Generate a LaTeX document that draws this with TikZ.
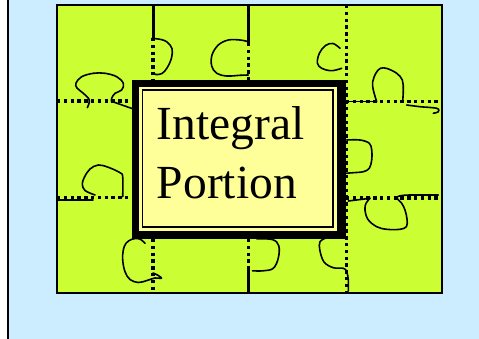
\documentclass[tikz,border=0pt]{standalone}
\usepackage{fontspec}
\setmainfont{Liberation Serif}
\definecolor{sky}{HTML}{CCECFF}
\definecolor{lime}{HTML}{CCFF33}
\definecolor{cream}{HTML}{FFFF99}
\begin{document}
\begin{tikzpicture}[x=1pt,y=-1pt,
  cut/.style={line width=3.2pt, dash pattern=on 3.4pt off 3.4pt},
  seam/.style={line width=3pt},
  edge/.style={line width=1.6pt, line join=round, line cap=round},
  knob/.style={smooth, tension=0.6},
  label/.style={anchor=base west, inner sep=0pt, font=\fontsize{47.5}{56}\selectfont}]
\useasboundingbox (0,0) rectangle (479,339);
\fill[white] (0,0) rectangle (479,339);
% slide background
\filldraw[fill=sky, draw=black, line width=2pt] (8.3,-10) rectangle (500,360);
% puzzle board
\filldraw[fill=lime, draw=black, line width=1.1pt] (57,5) rectangle (442,293);

% cutting lines of the grid
\draw[seam] (153,5) -- (153,38);
\draw[cut] (153,38) -- (153,80);
\draw[cut] (153,239) -- (153,292);
\draw[seam] (248.5,5) -- (248.5,43);
\draw[cut] (248.5,43) -- (248.5,80);
\draw[cut] (248.5,239) -- (248.5,268);
\draw[seam] (248.5,268) -- (248.5,293);
\draw[cut] (57,101) -- (132,101);
\draw[cut] (57,197.5) -- (132,197.5);
\draw[cut] (346,101.5) -- (440,101.5);
\draw[cut] (346,198) -- (440,198);

% piece outlines: tabs and blanks
\draw[edge] plot[knob] coordinates {(87.3,107.7) (89.3,100) (83.3,93.3) (77,88) (76,83) (81.7,76.7) (93.3,73.3) (105,73.3) (116.7,76.7) (123.3,83.3) (121.7,90) (115,93.3) (111.7,98.3) (111.5,101.5)};
\draw[edge] (112,101.5) -- (132,108.5);
\draw[edge] plot[knob] coordinates {(95,195) (85,190.5) (82.3,184) (84.5,177) (90,169) (98.3,165) (108.3,167.3) (120,172.7) (122.7,177) (122.7,196.7)};
\draw[edge] (57,200) -- (93,200);
\draw[edge] plot[knob] coordinates {(152,38.3) (161,39.5) (167,42) (172,48.5) (171.5,58) (167,68) (162,73.5) (156,74.5) (153,73)};
\draw[edge] plot[knob] coordinates {(248.3,41.7) (240,40) (228.3,40) (218.3,45) (212,55) (211.7,66) (216.7,73.3) (226.7,76) (240,75.3) (248.3,75)};
\draw[edge] plot[knob] coordinates {(340,48.3) (333,43.5) (325.5,45.5) (319.5,53) (317.3,63) (321.7,68.3) (330,70.7) (336,70) (341.7,68.3)};
\draw[edge] (345,101.5) -- (375,101.5);
\draw[edge] plot[knob] coordinates {(376.7,101.7) (373.3,90) (372.7,81.7) (376,73) (380.5,68.3) (387,68.5) (396.7,73.3) (402.3,80) (403.3,90) (402.7,101)};
\draw[edge] plot[knob] coordinates {(406.7,105) (420,106.7) (436.7,108.3) (438.3,111.7) (433.3,113.3)};
\draw[edge] (348.3,201) -- (370,198.3);
\draw[edge] plot[knob] coordinates {(370,198.3) (366,203.3) (365,210) (368,219.5) (376.7,226.7) (386.7,229.3) (400,229.3) (406.5,226.5) (407,219) (405,210) (401.7,203.3) (398,199.5) (397,197) (402,195.5) (410,195)};
\draw[edge] (410,195) -- (438.3,195);
\draw[edge] plot[knob] coordinates {(326,238) (320,241.7) (319.8,250) (324,262) (333.3,267.7) (343.3,268.3) (346.7,271.7) (348.3,280) (348.3,291)};
\draw[edge] plot[knob] coordinates {(256.7,238.8) (272.5,239.6) (278.8,245.8) (278.3,258) (273.3,268.3) (263.3,270.8) (252.5,270.8)};
\draw[edge] plot[knob] coordinates {(145,243.3) (139.3,238.8) (131.7,239.3) (126,243.3) (123.3,250) (122.7,260) (125,271.7) (130,279.5) (138.3,282.5) (147,280.5) (155,278) (161.5,278.3) (157.5,275) (153,273)};

% framed central piece
\fill[black] (132,80) rectangle (346,239);
\fill[cream] (139.3,86.7) rectangle (336.7,231);
\draw[line width=1.7pt] (142.5,89.8) rectangle (332.8,227);
\node[label] (word1) at (156.7,140) {Integral};
\node[label] (word2) at (156.7,198.3) {Portion};

% right-hand cut running past the frame
\draw[edge] plot[knob] coordinates {(346.7,140) (360,140) (369.3,143.3) (371.7,150) (371.7,160) (369.3,168.3) (363.3,171.7) (353.3,172.7) (345,173.3)};
\draw[cut] (346.5,5) -- (346.5,292);
\end{tikzpicture}
\end{document}
